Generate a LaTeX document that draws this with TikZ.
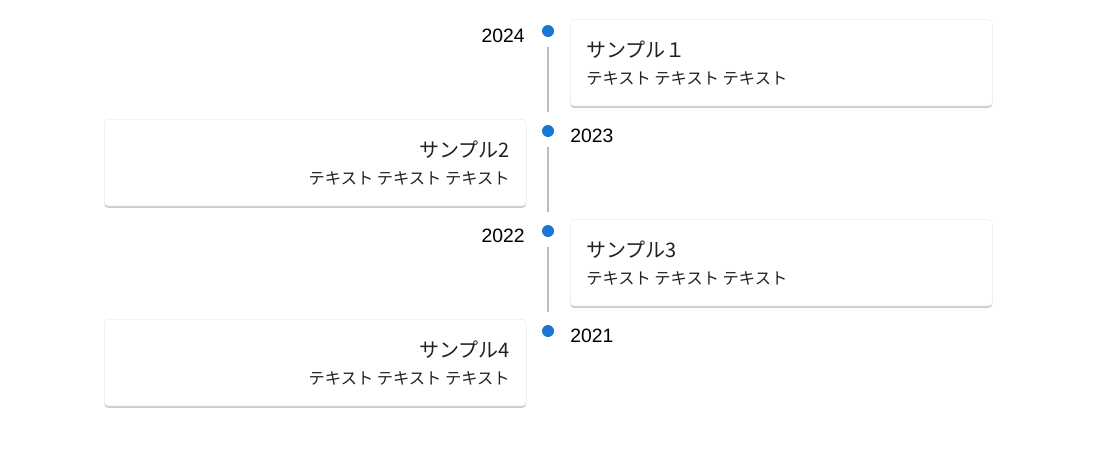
\documentclass[tikz,border=0pt]{standalone}
\usepackage{fontspec}
\setmainfont{Liberation Sans}
\newfontfamily\jpfont{Noto Sans CJK JP}
\usetikzlibrary{shadows,calc}
\definecolor{dotblue}{RGB}{25,118,210}
\definecolor{linegray}{RGB}{189,189,189}
\definecolor{txt}{RGB}{33,33,33}
\tikzset{
  card/.style={draw=black!7,line width=0.4pt,fill=white,rounded corners=3pt,minimum width=316.5pt,minimum height=65pt,
    drop shadow={shadow xshift=0pt,shadow yshift=-1.5pt,opacity=0.35,fill=black!55}},
  tdot/.style={circle,fill=dotblue,inner sep=0pt,minimum size=9pt},
  tline/.style={draw=linegray,line width=1.5pt},
  year/.style={font=\fontsize{14.5pt}{16pt}\selectfont,text=black,inner sep=0pt},
  ttl/.style={font=\jpfont\fontsize{15pt}{17pt}\selectfont,text=txt,inner sep=0pt},
  sub/.style={font=\jpfont\fontsize{12.2pt}{14pt}\selectfont,text=txt,inner sep=0pt},
}
\begin{document}
\begin{tikzpicture}[x=0.75pt,y=-0.75pt]
\useasboundingbox (0,0) rectangle (1117,450);
% cards
\node[card,anchor=north west] (c1) at (570,19) {};
\node[card,anchor=north west] (c2) at (104,119) {};
\node[card,anchor=north west] (c3) at (570,219) {};
\node[card,anchor=north west] (c4) at (104,319) {};
% dots
\node[tdot] (d1) at (548,31) {};
\node[tdot] (d2) at (548,131) {};
\node[tdot] (d3) at (548,231) {};
\node[tdot] (d4) at (548,331) {};
% lines
\draw[tline] ([yshift=-7.5pt]d1.south) -- ([yshift=9.5pt]d2.north);
\draw[tline] ([yshift=-7.5pt]d2.south) -- ([yshift=9.5pt]d3.north);
\draw[tline] ([yshift=-7.5pt]d3.south) -- ([yshift=9.5pt]d4.north);
% years
\node[year,anchor=base east] (y1) at (525,42) {2024};
\node[year,anchor=base west] (y2) at (570,142) {2023};
\node[year,anchor=base east] (y3) at (525,242) {2022};
\node[year,anchor=base west] (y4) at (570,342) {2021};
% card texts
\node[ttl,anchor=base west] (t1) at (586,57) {サンプル１};
\node[sub,anchor=base west] (s1) at (586,84) {テキスト テキスト テキスト};
\node[ttl,anchor=base east] (t2) at (510,157) {サンプル2};
\node[sub,anchor=base east] (s2) at (510,184) {テキスト テキスト テキスト};
\node[ttl,anchor=base west] (t3) at (586,257) {サンプル3};
\node[sub,anchor=base west] (s3) at (586,284) {テキスト テキスト テキスト};
\node[ttl,anchor=base east] (t4) at (510,357) {サンプル4};
\node[sub,anchor=base east] (s4) at (510,384) {テキスト テキスト テキスト};
\end{tikzpicture}
\end{document}
